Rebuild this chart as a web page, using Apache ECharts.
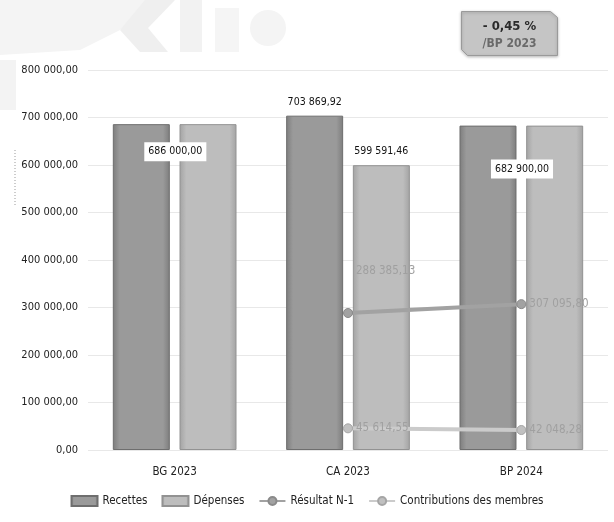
<!DOCTYPE html>
<html>
<head>
<meta charset="utf-8">
<script src="https://cdn.jsdelivr.net/npm/echarts@6/dist/echarts.min.js"></script>
<style>
  html, body { margin: 0; padding: 0; background: #ffffff; }
  #chart { width: 614px; height: 522px; }
</style>
</head>
<body>
<div id="chart"></div>
<script>
// Budget categories and series
var categories = ['BG 2023', 'CA 2023', 'BP 2024'];
var recettes = [686000.00, 703869.92, 682900.00];
var depenses = [686000.00, 599591.46, 682900.00];
var resultatN1 = [null, 288385.13, 307095.80];
var contributions = [null, 45614.55, 42048.28];
var yTicks = [0, 100000, 200000, 300000, 400000, 500000, 600000, 700000, 800000];
var badgeLines = ['- 0,45 %', '/BP 2023'];

var FONT = '"Liberation Sans Narrow", "DejaVu Sans Condensed", sans-serif';

// French number format: "703 869,92"
function fmt(v) {
  var parts = Number(v).toFixed(2).split('.');
  var intPart = parts[0].replace(/\B(?=(\d{3})+(?!\d))/g, ' ');
  return intPart + ',' + parts[1];
}

function barFill(dark) {
  var c1 = dark ? '#7d7d7d' : '#a3a3a3';
  var c2 = dark ? '#9a9a9a' : '#bdbdbd';
  return new echarts.graphic.LinearGradient(0, 0, 1, 0, [
    { offset: 0, color: c1 },
    { offset: 0.12, color: c2 },
    { offset: 0.88, color: c2 },
    { offset: 1, color: c1 }
  ]);
}

var boxLabel = {
  show: true,
  color: '#111',
  backgroundColor: '#ffffff',
  padding: [4, 4],
  fontFamily: FONT,
  fontSize: 10.5,
  formatter: function (p) { return fmt(p.value); }
};
var topLabel = {
  show: true,
  position: 'top',
  distance: 8,
  color: '#111',
  fontFamily: FONT,
  fontSize: 10.5,
  formatter: function (p) { return fmt(p.value); }
};

// Recettes: equal-valued categories get one label straddling both bars
var recettesData = recettes.map(function (v, i) {
  var item = { value: v };
  if (recettes[i] === depenses[i]) {
    item.label = Object.assign({}, boxLabel, { position: 'insideTop', offset: [34, i === 0 ? 13 : 29] });
  } else {
    item.label = topLabel;
  }
  return item;
});
var depensesData = depenses.map(function (v, i) {
  var item = { value: v };
  item.label = (recettes[i] === depenses[i]) ? { show: false } : topLabel;
  return item;
});

var lineLabel = {
  show: true,
  position: 'right',
  distance: 3,
  color: '#a0a0a0',
  fontFamily: FONT,
  fontSize: 11.5,
  formatter: function (p) { return p.value == null ? '' : fmt(p.value); }
};

// The first Résultat label sits above its line
var resultatData = resultatN1.map(function (v, i) {
  return i === 1 ? { value: v, label: { offset: [0, -42] } } : v;
});

var chart = echarts.init(document.getElementById('chart'), null, { renderer: 'canvas' });

chart.setOption({
  animation: false,
  backgroundColor: '#ffffff',
  textStyle: { fontFamily: FONT },
  grid: { left: 88, right: 6, top: 70, bottom: 72, containLabel: false },
  xAxis: {
    type: 'category',
    data: categories,
    axisLine: { show: false },
    axisTick: { show: false },
    axisLabel: { color: '#222', fontSize: 11.5, margin: 16, fontFamily: FONT }
  },
  yAxis: {
    type: 'value',
    min: 0,
    max: 800000,
    interval: 100000,
    axisLine: { show: false },
    axisTick: { show: false },
    splitLine: { lineStyle: { color: '#e8e8e8', width: 1 } },
    axisLabel: {
      color: '#222',
      fontSize: 11,
      margin: 10,
      fontFamily: FONT,
      formatter: function (v) { return yTicks.indexOf(v) >= 0 ? fmt(v) : ''; }
    }
  },
  legend: {
    bottom: 10,
    left: 'center',
    itemGap: 14,
    itemWidth: 26,
    itemHeight: 10,
    textStyle: { color: '#222', fontSize: 11.5, fontFamily: FONT },
    data: [
      { name: 'Recettes', icon: 'rect' },
      { name: 'Dépenses', icon: 'rect' },
      { name: 'Résultat N-1' },
      { name: 'Contributions des membres' }
    ]
  },
  series: [
    {
      name: 'Recettes',
      type: 'bar',
      barWidth: 57,
      barGap: '17%',
      itemStyle: { color: barFill(true), borderColor: '#6e6e6e', borderWidth: 1 },
      data: recettesData,
      z: 2
    },
    {
      name: 'Dépenses',
      type: 'bar',
      barWidth: 57,
      barGap: '17%',
      itemStyle: { color: barFill(false), borderColor: '#929292', borderWidth: 1 },
      data: depensesData,
      z: 2
    },
    {
      name: 'Résultat N-1',
      type: 'line',
      data: resultatData,
      symbol: 'circle',
      symbolSize: 9,
      lineStyle: { color: '#a2a2a2', width: 4 },
      itemStyle: { color: '#a2a2a2', borderColor: '#8a8a8a', borderWidth: 1 },
      label: Object.assign({}, lineLabel),
      z: 5
    },
    {
      name: 'Contributions des membres',
      type: 'line',
      data: contributions,
      symbol: 'circle',
      symbolSize: 9,
      lineStyle: { color: '#cbcbcb', width: 4 },
      itemStyle: { color: '#c0c0c0', borderColor: '#a5a5a5', borderWidth: 1 },
      label: Object.assign({}, lineLabel),
      z: 5
    }
  ],
  graphic: [
    // faint letterhead artwork in the top-left corner
    {
      type: 'group',
      silent: true,
      z: -10,
      children: [
        { type: 'polygon', shape: { points: [[0, 0], [150, 0], [120, 30], [80, 50], [0, 55]] }, style: { fill: '#f4f4f4' } },
        { type: 'polygon', shape: { points: [[145, 0], [175, 0], [148, 28], [168, 52], [140, 52], [120, 30]] }, style: { fill: '#efefef' } },
        { type: 'rect', shape: { x: 180, y: 0, width: 22, height: 52 }, style: { fill: '#f2f2f2' } },
        { type: 'rect', shape: { x: 215, y: 8, width: 24, height: 44 }, style: { fill: '#f5f5f5' } },
        { type: 'circle', shape: { cx: 268, cy: 28, r: 18 }, style: { fill: '#f4f4f4' } },
        { type: 'rect', shape: { x: 0, y: 60, width: 16, height: 50 }, style: { fill: '#f3f3f3' } },
        { type: 'line', shape: { x1: 15, y1: 150, x2: 15, y2: 205 }, style: { stroke: '#9a9a9a', lineWidth: 1, lineDash: [1, 2] } }
      ]
    },
    // variation badge
    {
      type: 'group',
      right: 56,
      top: 11,
      children: [
        {
          type: 'polygon',
          shape: { points: [[0, 0], [89, 0], [96, 6], [96, 44], [6, 44], [0, 38]] },
          style: { fill: '#c5c5c5', stroke: '#9a9a9a', lineWidth: 1, shadowBlur: 3, shadowColor: 'rgba(0,0,0,0.25)', shadowOffsetY: 1 }
        },
        {
          type: 'text',
          style: { x: 48, y: 15, text: badgeLines[0], align: 'center', verticalAlign: 'middle', fill: '#2a2a2a', font: 'bold 13px ' + FONT }
        },
        {
          type: 'text',
          style: { x: 48, y: 32, text: badgeLines[1], align: 'center', verticalAlign: 'middle', fill: '#6a6a6a', font: 'bold 12px ' + FONT }
        }
      ]
    }
  ]
});
</script>
</body>
</html>
